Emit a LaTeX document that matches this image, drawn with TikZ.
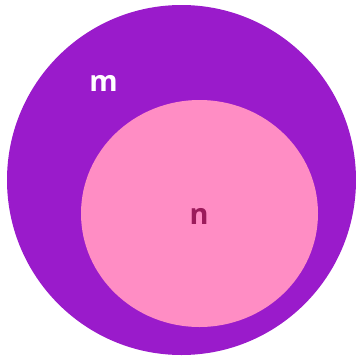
\documentclass[tikz,border=0pt]{standalone}
\usepackage{fontspec}
\setmainfont{Open Sans}
\definecolor{outerc}{HTML}{9A1BCB}
\definecolor{innerc}{HTML}{FF8DC4}
\definecolor{ntext}{HTML}{9B1B5B}
\begin{document}
\begin{tikzpicture}[x=1bp,y=-1bp,
  lab/.style={font=\fontsize{29}{29}\selectfont\bfseries, inner sep=0pt}]
\useasboundingbox (0,0) rectangle (356,357);
\fill[outerc] (181.5,180) ellipse [x radius=174.5, y radius=175];
\fill[innerc] (199.5,213.5) ellipse [x radius=118.5, y radius=113.5];
\node[lab, text=white, anchor=base] (m) at (103.5,91) {m};
\node[lab, text=ntext, anchor=base] (n) at (199,224) {n};
\end{tikzpicture}
\end{document}
